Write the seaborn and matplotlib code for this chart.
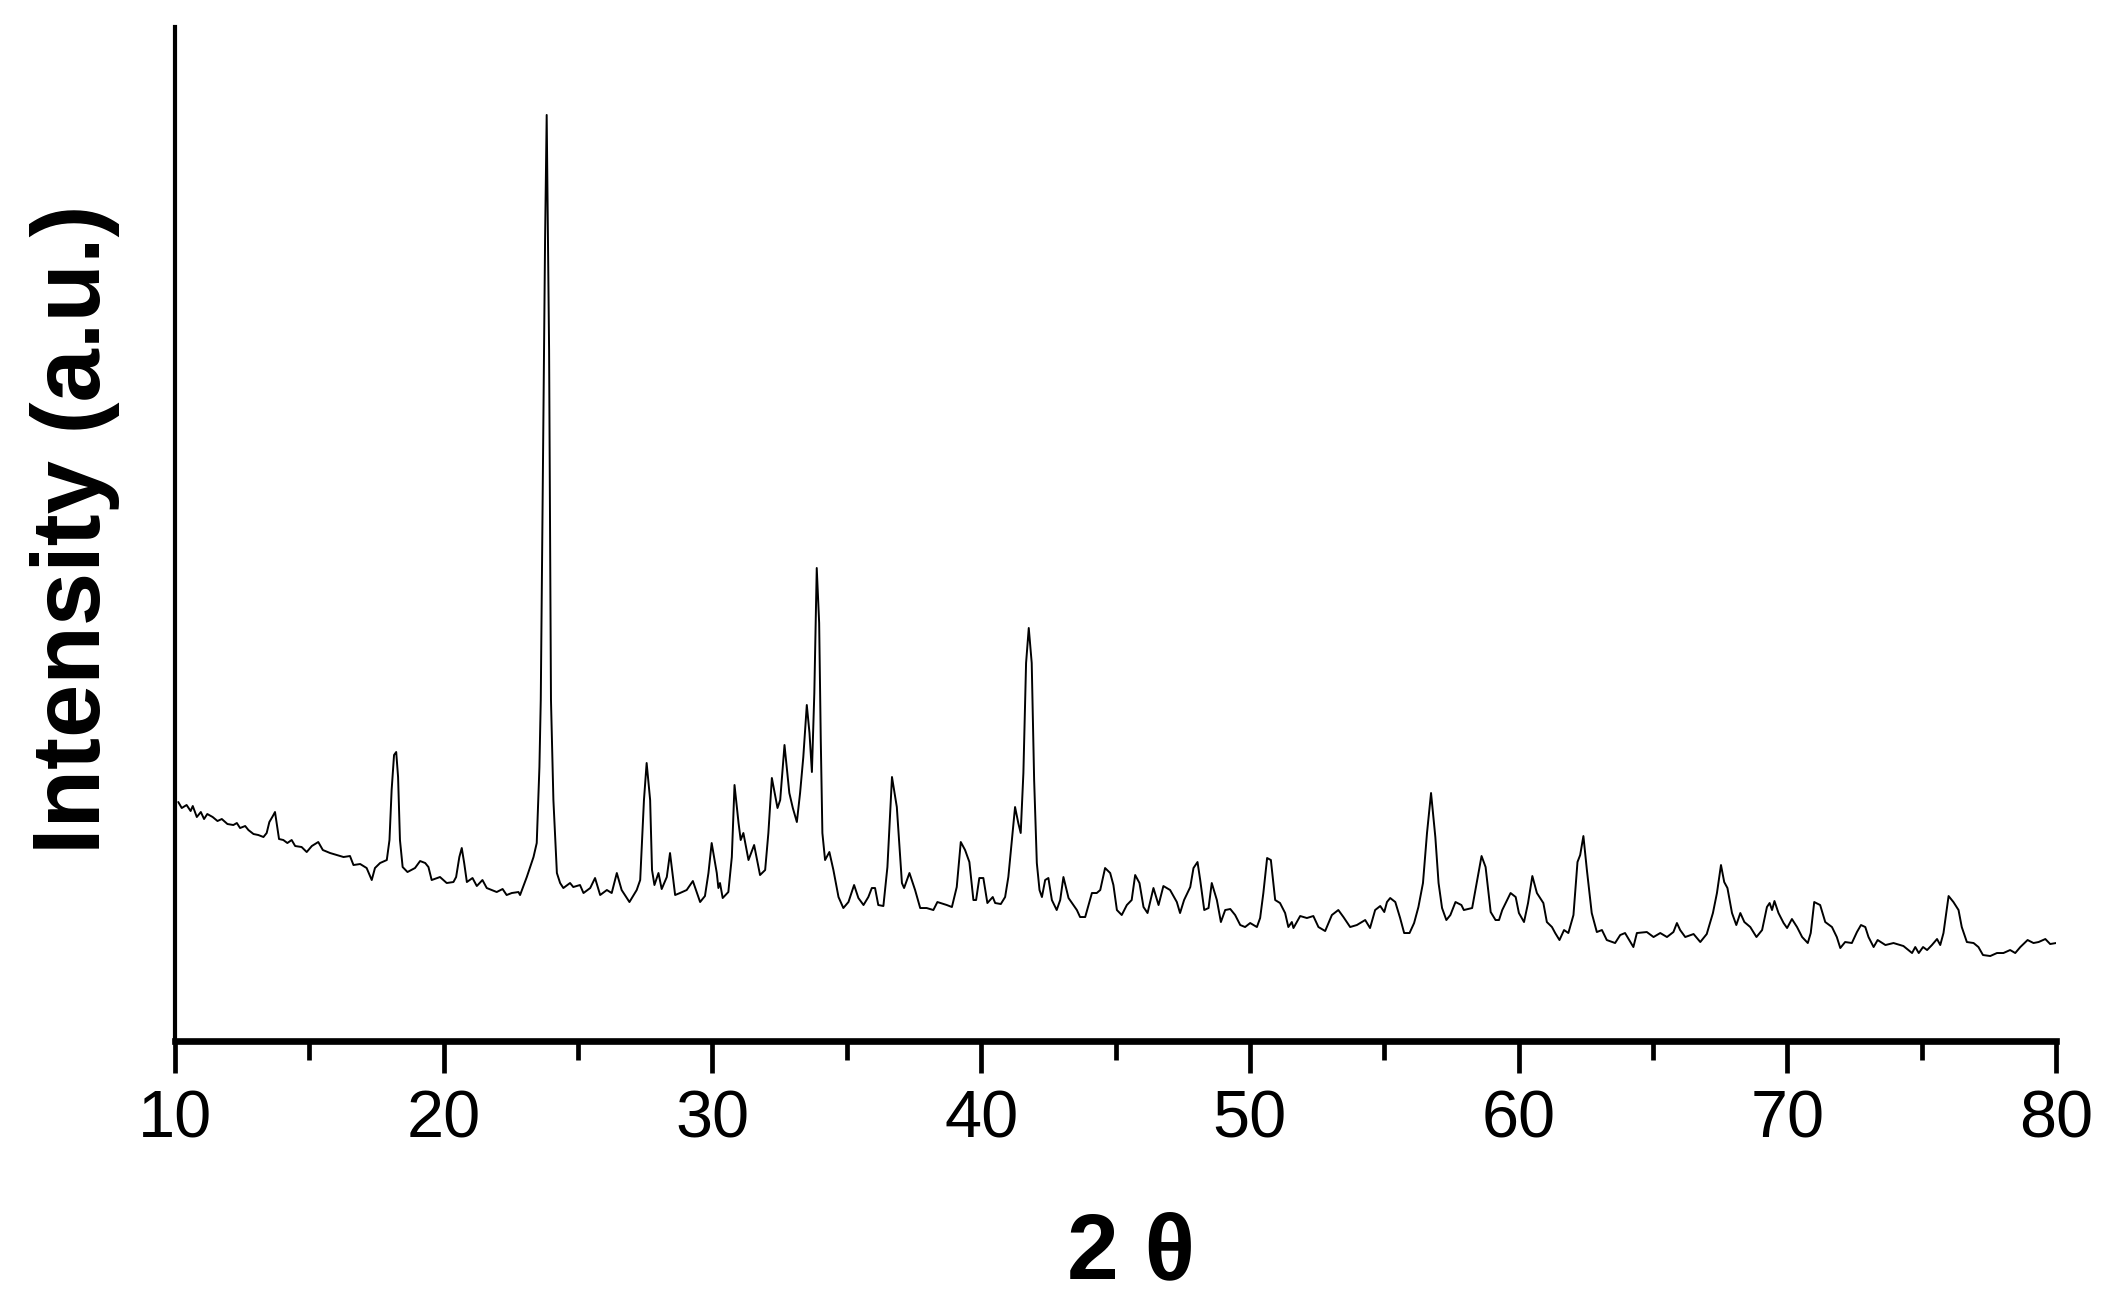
import matplotlib
matplotlib.use("Agg")
import matplotlib.pyplot as plt
from matplotlib.ticker import MultipleLocator
import seaborn as sns

# XRD pattern, values (2 theta in degrees, intensity in a.u.)
two_theta = [
    10.12, 10.25, 10.43, 10.58, 10.66, 10.81, 10.96, 11.08, 11.20, 11.40,
    11.58, 11.74, 11.95, 12.17, 12.30, 12.42, 12.61, 12.73, 12.92, 13.10,
    13.29, 13.41, 13.51, 13.64, 13.72, 13.78, 13.87, 14.03, 14.18, 14.34,
    14.47, 14.71, 14.90, 15.09, 15.33, 15.50, 15.77, 16.02, 16.27, 16.51,
    16.64, 16.89, 17.13, 17.32, 17.44, 17.63, 17.88, 17.98, 18.06, 18.15,
    18.23, 18.30, 18.37, 18.47, 18.65, 18.93, 19.12, 19.31, 19.43, 19.55,
    19.86, 20.11, 20.36, 20.46, 20.58, 20.67, 20.76, 20.86, 21.07, 21.23,
    21.44, 21.60, 21.97, 22.19, 22.34, 22.53, 22.78, 22.84, 23.09, 23.34,
    23.46, 23.56, 23.61, 23.73, 23.77, 23.83, 23.89, 23.92, 23.99, 24.08,
    24.21, 24.33, 24.45, 24.70, 24.82, 25.07, 25.20, 25.45, 25.63, 25.82,
    26.07, 26.25, 26.44, 26.62, 26.91, 27.18, 27.31, 27.45, 27.55, 27.68,
    27.75, 27.84, 27.99, 28.11, 28.30, 28.42, 28.61, 28.79, 29.04, 29.27,
    29.54, 29.72, 29.85, 29.97, 30.16, 30.22, 30.28, 30.38, 30.59, 30.72,
    30.82, 30.97, 31.05, 31.15, 31.34, 31.55, 31.77, 31.96, 32.08, 32.21,
    32.42, 32.52, 32.68, 32.86, 32.99, 33.14, 33.26, 33.38, 33.51, 33.61,
    33.70, 33.79, 33.88, 33.97, 34.03, 34.09, 34.19, 34.35, 34.50, 34.69,
    34.87, 35.06, 35.27, 35.43, 35.62, 35.80, 35.93, 36.05, 36.17, 36.36,
    36.51, 36.68, 36.86, 37.05, 37.13, 37.33, 37.54, 37.73, 37.97, 38.22,
    38.37, 38.72, 38.91, 39.09, 39.24, 39.40, 39.56, 39.71, 39.81, 39.93,
    40.08, 40.23, 40.43, 40.52, 40.73, 40.89, 41.01, 41.14, 41.26, 41.38,
    41.47, 41.57, 41.67, 41.77, 41.88, 41.97, 42.07, 42.17, 42.26, 42.38,
    42.50, 42.63, 42.81, 42.94, 43.06, 43.25, 43.43, 43.56, 43.68, 43.87,
    44.12, 44.30, 44.43, 44.61, 44.80, 44.92, 45.05, 45.23, 45.42, 45.60,
    45.73, 45.89, 46.04, 46.19, 46.41, 46.60, 46.78, 47.03, 47.28, 47.40,
    47.55, 47.78, 47.90, 48.05, 48.15, 48.30, 48.46, 48.58, 48.77, 48.92,
    49.08, 49.27, 49.45, 49.64, 49.82, 50.01, 50.26, 50.38, 50.50, 50.64,
    50.78, 50.94, 51.12, 51.31, 51.43, 51.56, 51.62, 51.87, 52.12, 52.36,
    52.55, 52.80, 53.05, 53.29, 53.48, 53.73, 53.98, 54.29, 54.47, 54.66,
    54.85, 55.00, 55.10, 55.22, 55.41, 55.59, 55.74, 55.94, 56.11, 56.27,
    56.44, 56.59, 56.74, 56.90, 57.02, 57.15, 57.31, 57.46, 57.65, 57.87,
    57.96, 58.27, 58.46, 58.62, 58.77, 58.96, 59.14, 59.27, 59.39, 59.70,
    59.89, 60.01, 60.20, 60.35, 60.51, 60.68, 60.92, 61.05, 61.24, 61.36,
    61.52, 61.69, 61.85, 62.04, 62.19, 62.29, 62.41, 62.54, 62.72, 62.91,
    63.10, 63.28, 63.59, 63.78, 63.96, 64.27, 64.40, 64.77, 65.02, 65.27,
    65.52, 65.76, 65.89, 66.01, 66.20, 66.51, 66.76, 67.00, 67.23, 67.38,
    67.53, 67.65, 67.77, 67.94, 68.10, 68.25, 68.40, 68.62, 68.85, 69.06,
    69.24, 69.34, 69.43, 69.52, 69.67, 69.86, 69.99, 70.17, 70.36, 70.55,
    70.76, 70.87, 71.00, 71.22, 71.41, 71.66, 71.84, 71.97, 72.15, 72.40,
    72.59, 72.74, 72.90, 73.02, 73.21, 73.36, 73.65, 73.95, 74.32, 74.64,
    74.76, 74.89, 75.05, 75.20, 75.38, 75.57, 75.69, 75.81, 76.00, 76.18,
    76.37, 76.49, 76.68, 76.93, 77.11, 77.28, 77.55, 77.80, 78.04, 78.29,
    78.48, 78.67, 78.94, 79.16, 79.35, 79.60, 79.78, 80.00,
]

intensity = [
    239, 233, 236, 230, 235, 224, 229, 222, 227, 224,
    220, 222, 217, 216, 218, 213, 215, 211, 207, 206,
    204, 208, 219, 225, 229, 218, 202, 201, 198, 201,
    195, 194, 189, 195, 199, 191, 188, 186, 184, 185,
    176, 177, 173, 161, 173, 178, 181, 201, 251, 286,
    289, 264, 201, 174, 169, 173, 180, 178, 174, 161,
    164, 158, 159, 164, 184, 193, 178, 159, 163, 155,
    161, 153, 149, 152, 146, 148, 149, 146, 164, 184,
    198, 274, 341, 691, 801, 926, 766, 691, 341, 241,
    168, 158, 153, 158, 154, 156, 148, 153, 163, 146,
    151, 148, 168, 151, 139, 151, 161, 241, 278, 241,
    171, 156, 168, 152, 164, 188, 146, 148, 151, 160,
    139, 145, 168, 198, 168, 153, 158, 143, 149, 184,
    256, 218, 201, 208, 181, 196, 166, 171, 208, 263,
    233, 241, 296, 248, 233, 219, 248, 284, 336, 308,
    269, 348, 473, 418, 301, 208, 181, 189, 171, 144,
    133, 139, 156, 143, 136, 144, 153, 153, 136, 135,
    174, 264, 234, 158, 153, 168, 151, 133, 133, 131,
    139, 136, 134, 154, 199, 191, 179, 141, 141, 163,
    163, 138, 144, 138, 137, 144, 164, 201, 234, 218,
    208, 268, 378, 413, 378, 261, 178, 151, 144, 161,
    163, 141, 131, 141, 164, 143, 136, 131, 124, 124,
    148, 148, 151, 173, 168, 156, 131, 126, 136, 141,
    166, 158, 134, 128, 153, 136, 155, 151, 139, 128,
    141, 154, 173, 179, 161, 131, 133, 158, 141, 119,
    131, 132, 126, 116, 114, 118, 114, 123, 148, 183,
    181, 141, 138, 128, 114, 119, 113, 125, 123, 125,
    114, 110, 126, 131, 124, 114, 116, 121, 113, 131,
    135, 129, 139, 143, 139, 123, 108, 108, 118, 134,
    158, 208, 248, 204, 158, 133, 121, 126, 139, 136,
    131, 133, 161, 185, 174, 129, 121, 121, 131, 148,
    144, 128, 119, 138, 165, 148, 138, 119, 114, 108,
    101, 111, 108, 126, 179, 186, 205, 171, 128, 109,
    111, 101, 98, 106, 108, 94, 108, 109, 104, 108,
    104, 109, 118, 111, 104, 107, 99, 107, 128, 148,
    176, 159, 153, 128, 116, 128, 119, 114, 104, 111,
    134, 138, 131, 140, 128, 118, 113, 122, 114, 104,
    98, 108, 139, 136, 119, 114, 104, 93, 99, 98,
    109, 116, 114, 104, 94, 101, 96, 98, 95, 88,
    94, 88, 94, 91, 96, 102, 96, 108, 145, 139,
    131, 114, 99, 98, 94, 86, 85, 88, 88, 91,
    88, 94, 101, 98, 99, 102, 97, 98,
]

x_ticks = [10, 20, 30, 40, 50, 60, 70, 80]

sns.set_style("ticks")
plt.rcParams['font.family'] = ['Liberation Sans', 'DejaVu Sans']

fig = plt.figure(figsize=(21.14, 13.08), dpi=100)
ax = fig.add_axes([0.0828, 0.2041, 0.8898, 0.7753])

sns.lineplot(x=two_theta, y=intensity, ax=ax, color='black', linewidth=1.4,
             estimator=None, sort=False)

ax.set_xlim(10, 80)
ax.set_ylim(0, 1014)
ax.set_xticks(x_ticks)
ax.xaxis.set_minor_locator(MultipleLocator(5))
ax.set_yticks([])

sns.despine(ax=ax)
ax.spines['bottom'].set_linewidth(4.8)
ax.spines['left'].set_linewidth(3.0)
ax.spines['bottom'].set_color('black')
ax.spines['left'].set_color('black')

ax.tick_params(axis='x', which='major', direction='out', length=23, width=3.4,
               labelsize=48, pad=12, color='black', labelcolor='black')
ax.tick_params(axis='x', which='minor', direction='out', length=14, width=3.4,
               color='black')

ax.set_xlabel("2 θ", fontsize=67, fontweight='bold', color='black')
ax.set_ylabel("Intensity (a.u.)", fontsize=69, fontweight='bold', color='black')
ax.xaxis.set_label_coords(0.508, -0.168)
ax.yaxis.set_label_coords(-0.029, 0.505)

fig.savefig("out.png", dpi=100)
